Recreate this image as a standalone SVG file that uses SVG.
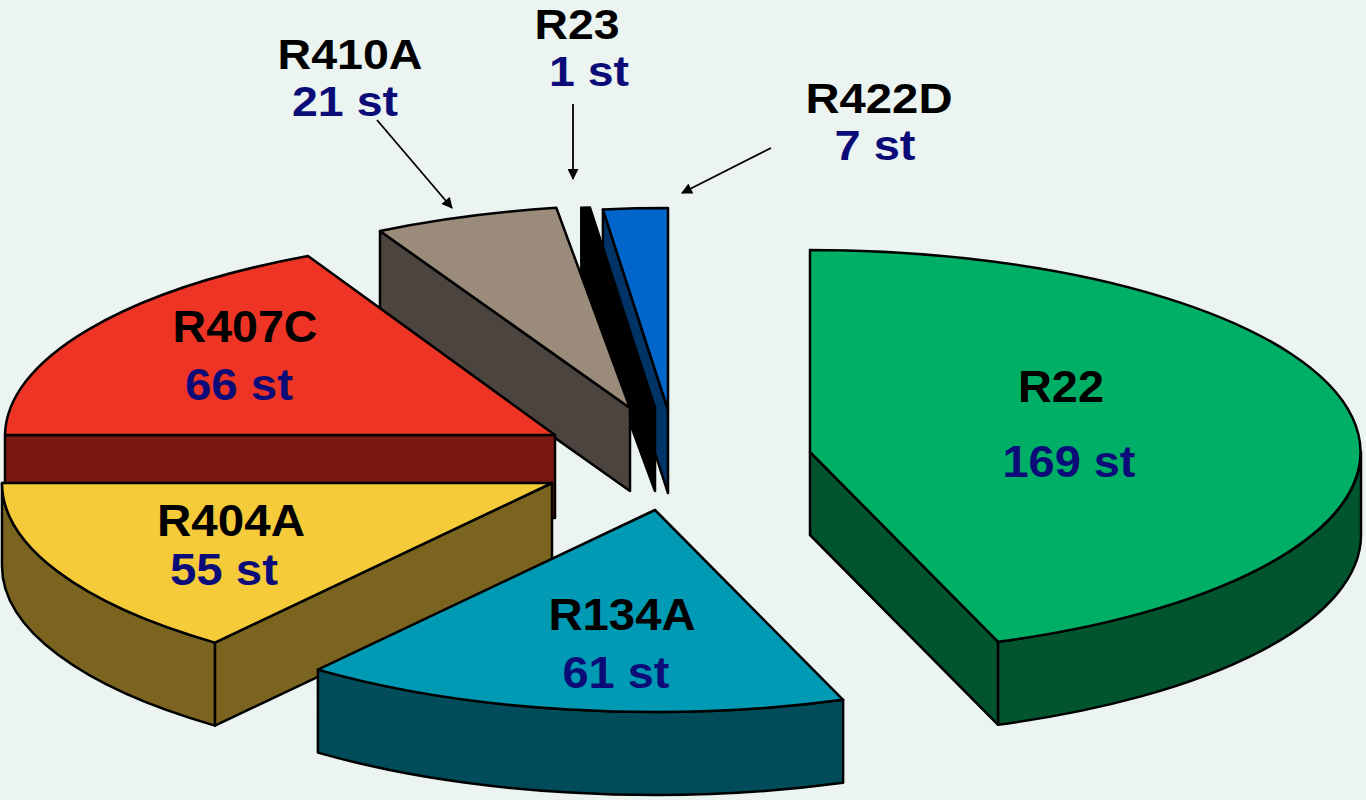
<svg xmlns="http://www.w3.org/2000/svg" width="1366" height="800" viewBox="0 0 1366 800">
<defs>
<style>
.s{stroke:#000;stroke-width:2.5;stroke-linejoin:round}
.t{font-family:"Liberation Sans",Arial,sans-serif;font-weight:bold;font-size:45px;text-anchor:middle}
.u{font-size:42px}
.k{fill:#000}
.b{fill:#0C0C78}
.a{stroke:#000;stroke-width:1.8;fill:none}
</style>
<marker id="ah" viewBox="0 0 10 10" refX="9" refY="5" markerWidth="13" markerHeight="11" markerUnits="userSpaceOnUse" orient="auto">
<path d="M0,0 L10,5 L0,10 Z" fill="#000"/>
</marker>
</defs>
<rect width="1366" height="800" fill="#EBF4F1"/>

<g id="R422D">
<path class="s" d="M602.9,209.4 L668,410 L668,493 L602.9,292.4 Z" fill="#003366"/>
<path class="s" d="M668,410 L602.9,209.4 A550 202 0 0 1 668,208 Z" fill="#0066CC"/>
</g>
<g id="R23">
<path class="s" d="M581.3,207.8 L655,408 L655,491 L581.3,290.8 Z" fill="#000"/>
<path class="s" d="M655,408 L581.3,207.8 A550 202 0 0 1 589.9,207.4 Z" fill="#000"/>
</g>
<g id="R410A">
<path class="s" d="M380,231 L630,408 L630,491 L380,314 Z" fill="#4C443E"/>
<path class="s" d="M630,408 L380,231 A550 202 0 0 1 556.3,207.8 Z" fill="#9A8B7A"/>
</g>
<g id="R407C">
<path class="s" d="M5,435 L555,435 L555,518 L5,518 Z" fill="#7A1814"/>
<path class="s" d="M555,435 L5,435 A550 202 0 0 1 308,256 Z" fill="#EE3424"/>
<text class="t k" x="245" y="342" textLength="145" lengthAdjust="spacingAndGlyphs">R407C</text>
<text class="t b" x="239" y="400" textLength="108" lengthAdjust="spacingAndGlyphs">66 st</text>
</g>
<g id="R404A">
<path class="s" d="M552,483 L214.9,642.6 L214.9,725.6 L552,566 Z" fill="#7A6420"/>
<path class="s" d="M214.9,642.6 A550 202 0 0 1 2,483 L2,566 A550 202 0 0 0 214.9,725.6 Z" fill="#7A6420"/>
<path class="s" d="M552,483 L214.9,642.6 A550 202 0 0 1 2,483 Z" fill="#F5CB3A"/>
<text class="t k" x="231" y="536" textLength="148" lengthAdjust="spacingAndGlyphs">R404A</text>
<text class="t b" x="224" y="585" textLength="108" lengthAdjust="spacingAndGlyphs">55 st</text>
</g>
<g id="R134A">
<path class="s" d="M843.1,699.8 A550 202 0 0 1 317.9,669.6 L317.9,752.6 A550 202 0 0 0 843.1,782.8 Z" fill="#004C5A"/>
<path class="s" d="M655,510 L843.1,699.8 A550 202 0 0 1 317.9,669.6 Z" fill="#009AB4"/>
<text class="t k" x="622" y="630" textLength="147" lengthAdjust="spacingAndGlyphs">R134A</text>
<text class="t b" x="616" y="688" textLength="107" lengthAdjust="spacingAndGlyphs">61 st</text>
</g>
<g id="R22">
<path class="s" d="M810,452 L998.1,641.8 L998.1,724.8 L810,535 Z" fill="#00552E"/>
<path class="s" d="M1361,452 A551 202 0 0 1 998.1,641.8 L998.1,724.8 A551 202 0 0 0 1361,535 Z" fill="#00552E"/>
<path class="s" d="M810,452 L810,250 A551 202 0 0 1 998.1,641.8 Z" fill="#00AF66"/>
<text class="t k" x="1061" y="402" textLength="86" lengthAdjust="spacingAndGlyphs">R22</text>
<text class="t b" x="1069" y="477" textLength="133" lengthAdjust="spacingAndGlyphs">169 st</text>
</g>
<g id="labels">
<text class="t u k" x="350" y="69" textLength="145" lengthAdjust="spacingAndGlyphs">R410A</text>
<text class="t u b" x="345" y="116" textLength="106" lengthAdjust="spacingAndGlyphs">21 st</text>
<text class="t u k" x="577" y="39" textLength="85" lengthAdjust="spacingAndGlyphs">R23</text>
<text class="t u b" x="589" y="86" textLength="80" lengthAdjust="spacingAndGlyphs">1 st</text>
<text class="t u k" x="879" y="113" textLength="147" lengthAdjust="spacingAndGlyphs">R422D</text>
<text class="t u b" x="875" y="160" textLength="81" lengthAdjust="spacingAndGlyphs">7 st</text>
</g>
<g id="connectors">
<line class="a" x1="377" y1="120" x2="452" y2="208" marker-end="url(#ah)"/>
<line class="a" x1="573" y1="104" x2="573" y2="179" marker-end="url(#ah)"/>
<line class="a" x1="771" y1="148" x2="682" y2="193" marker-end="url(#ah)"/>
</g>
</svg>
